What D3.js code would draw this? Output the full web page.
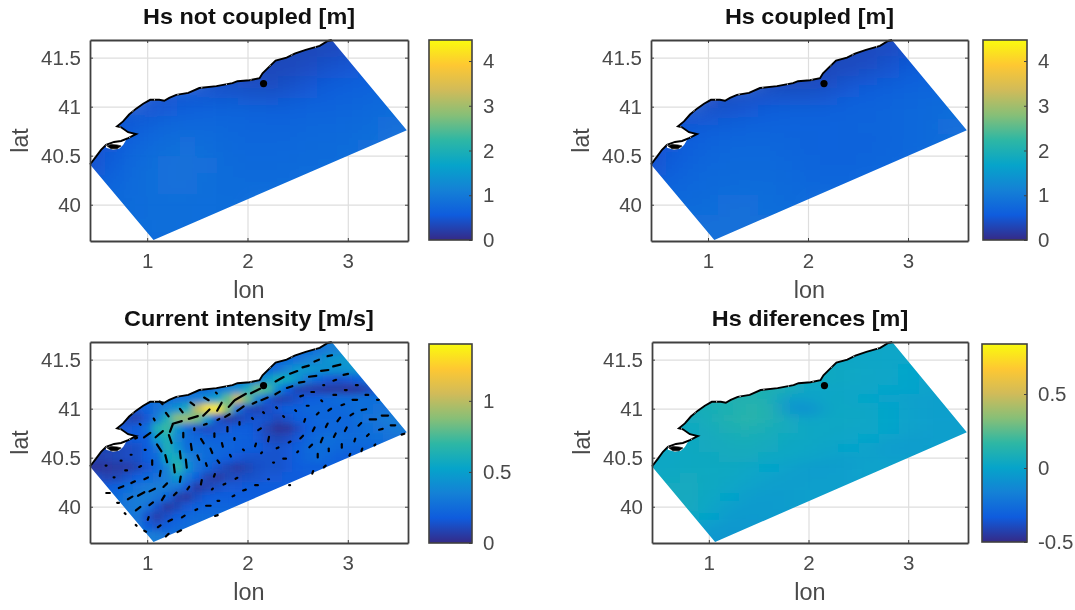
<!DOCTYPE html>
<html>
<head>
<meta charset="utf-8">
<script src="https://cdn.jsdelivr.net/npm/d3@7"></script>
<style>
  html, body { margin: 0; padding: 0; background: #fff; }
  svg { display: block; filter: blur(0.45px); font-family: "Liberation Sans", Arial, sans-serif; }
</style>
</head>
<body>
<div id="chart"></div>
<script>
// Map limits and axis ticks
var lonDomain = [0.43, 3.6];
var latDomain = [39.63, 41.68];
var lonTicks = [1, 2, 3];
var latTicks = [40, 40.5, 41, 41.5];

// parula colour stops
var parula = ["#352a87", "#0f5cdd", "#1481d6", "#06a4ca", "#2eb7a4", "#87bf77", "#d1bb59", "#fec832", "#f9fb0e"];

// Coastline [lon, lat], west to north
var coast = [[0.43,40.41],[0.49,40.49],[0.54,40.56],[0.59,40.61],[0.67,40.64],[0.74,40.65],[0.81,40.68],[0.89,40.72],
  [0.81,40.74],[0.74,40.79],[0.70,40.80],[0.76,40.85],[0.82,40.92],[0.89,40.98],[0.96,41.03],[1.03,41.07],[1.12,41.07],
  [1.17,41.06],[1.22,41.09],[1.29,41.12],[1.41,41.14],[1.52,41.19],[1.69,41.21],[1.85,41.24],[1.90,41.26],[2.02,41.27],
  [2.12,41.29],[2.15,41.34],[2.20,41.39],[2.28,41.47],[2.39,41.50],[2.47,41.54],[2.58,41.58],[2.72,41.62],[2.80,41.67],[2.84,41.68]];
// Open sea corners, east then south
var seaCorners = [[3.588,40.76],[1.063,39.64]];
var inlet = [[0.59,40.61],[0.67,40.64],[0.74,40.65],[0.79,40.66],[0.76,40.61],[0.72,40.57],[0.66,40.56],[0.59,40.58]];
var shoal = [[0.60,40.60],[0.64,40.57],[0.70,40.57],[0.74,40.60],[0.70,40.61],[0.64,40.615]];
var station = [2.16, 41.236];

// Hs fields in cm, 0.2 deg grid: first number of each row is the starting lon
var hsLats = [41.6, 41.4, 41.2, 41.0, 40.8, 40.6, 40.4, 40.2, 40.0, 39.8, 39.6];
var hsNotCoupled = [
  [2.6, 32,34,38],
  [2.2, 34,34,38,44,50,56],
  [1.6, 44,42,38,34,42,50,58,62,66,68],
  [0.8, 44,46,52,58,62,66,66,64,64,66,68,70,74,78],
  [0.8, 54,62,72,76,74,72,70,70,70,72,74,76,80,86,90],
  [0.6, 50,62,76,82,84,80,76,74,74,74,76,78,80,84],
  [0.4, 40,56,72,82,88,88,84,80,76,76,78,80,80],
  [0.6, 66,76,82,84,84,82,80,80,80,80],
  [0.8, 78,82,82,82,82,82,82],
  [1.0, 82,82,82],
  [1.0, 80,80]
];
var hsCoupled = [
  [2.6, 36,38,42],
  [2.2, 32,34,38,46,54,60],
  [1.6, 34,34,34,40,52,58,62,66,70,72],
  [0.8, 38,40,44,50,56,62,64,64,66,68,70,72,76,80],
  [0.8, 54,60,64,66,66,66,66,66,68,70,70,72,76,84,90],
  [0.6, 50,60,68,72,74,72,70,68,66,66,68,70,72,78],
  [0.4, 40,56,68,74,76,76,76,74,70,68,68,70,72],
  [0.6, 66,72,76,78,80,80,78,74,72,72],
  [0.8, 76,80,84,84,82,78,76],
  [1.0, 86,86,84],
  [1.0, 88,88]
];

// Current speed in cm/s, 0.1 deg grid
var currentLats = [41.6,41.5,41.4,41.3,41.2,41.1,41.0,40.9,40.8,40.7,40.6,40.5,40.4,40.3,40.2,40.1,40.0,39.9,39.8,39.7];
var currentSpeed = [
  [2.6, 24,28,32,36,38],
  [2.3, 22,24,28,34,38,44,46,46,46],
  [2.2, 22,28,38,46,46,44,42,42,44,44,38],
  [2.0, 28,32,46,60,56,44,30,22,16,14,16,20,26,28],
  [1.6, 24,30,36,42,58,82,74,40,18,10,8,7,6,6,5,6,10,18],
  [1.2, 26,28,30,34,42,52,80,104,82,38,16,9,10,14,18,20,22,24,24,26,26,26,28],
  [0.9, 16,20,28,36,44,60,100,132,135,88,30,12,9,12,16,19,20,22,22,22,22,24,26,26,28,28],
  [0.7, 14,10,9,16,34,62,88,92,84,48,14,7,9,13,15,14,11,14,19,20,22,22,22,22,26,28,30,32,32],
  [0.8, 16,18,26,62,72,44,24,14,12,14,16,18,18,15,9,4,5,12,18,21,22,22,22,24,26,28,30,32,32],
  [0.9, 17,18,50,62,38,24,22,20,20,20,20,19,16,12,10,12,16,21,24,26,25,24,24,25,26,28,28],
  [0.7, 10,12,13,18,30,62,42,26,26,24,22,21,20,19,17,15,14,16,19,23,25,25,23,22,22,22,22],
  [0.5, 8,9,10,12,13,18,24,56,60,36,29,24,21,18,16,14,14,14,14,16,19,22,24,22,20,19,19],
  [0.4, 5,4,5,6,7,10,15,22,36,68,42,28,21,14,10,7,10,13,14,14,16,18,19,19,19,19],
  [0.5, 12,9,10,14,18,22,27,34,46,30,19,9,6,10,12,13,14,16,16,17,17,17],
  [0.6, 17,20,25,28,31,32,32,29,16,6,9,13,16,16,17,17,17,17,17],
  [0.7, 24,29,32,33,29,22,8,6,13,17,18,18,18,18,18,18],
  [0.8, 30,32,27,14,6,10,16,20,21,21,21,21,21],
  [0.8, 30,29,14,8,13,18,22,24,24,24],
  [0.9, 29,17,14,19,22,24,24],
  [1.0, 32,32,27]
];

// Hs difference in cm, 0.2 deg lon by 0.1 deg lat
var hsDifference = [
  [2.6, 2,1,1],
  [2.4, 2,2,1,1,0],
  [2.2, 4,3,2,1,0,-1],
  [2.0, 7,4,3,2,1,0,-1,-1],
  [1.6, 11,9,-1,1,2,1,0,0,-1,-1],
  [1.2, 11,12,9,-3,1,3,2,0,-1,-2,-2,-2],
  [0.8, 7,8,10,13,13,-8,-13,2,3,2,0,-1,-2,-2],
  [0.8, 5,8,12,14,11,5,1,3,3,2,0,-1,-2,-2],
  [0.8, 4,6,10,11,8,5,3,3,2,2,0,-1,-2,-2,-2],
  [0.8, 4,5,7,8,6,4,3,2,1,0,-1,-3,-3,-2],
  [0.6, 3,4,5,6,7,5,3,2,1,0,-1,-4,-4,-2],
  [0.6, 3,4,4,5,5,3,2,1,-1,-2,-1,-2,-2],
  [0.4, 2,3,4,4,4,2,0,-1,-4,-4,-2,-1,-1],
  [0.6, 4,5,4,3,1,-1,-3,-3,-2,-2,-1],
  [0.6, 5,5,4,2,-1,-3,-3,-2,-2,-2],
  [0.6, 5,5,3,0,-3,-4,-3,-2,-2],
  [0.8, 5,2,-2,-4,-4,-3,-2],
  [0.8, 4,0,-4,-5,-4],
  [1.0, -3,-6,-5],
  [1.0, -6,-7]
];

// Current vectors [lon, lat, u, v] in degrees on the map
var currentVectors = [
  [.59,40.42,.01,0],[.74,40.47,.01,0],[.84,40.53,.01,0],[.98,40.58,.01,0],[.67,40.30,.01,0],[.79,40.37,.02,0],
  [.93,40.41,.02,.01],[1.05,40.45,0,.05],[.74,40.20,.05,.02],[.86,40.25,.04,.02],[.99,40.29,.04,.02],[1.13,40.34,.01,.06],
  [.61,40.14,.04,0],[.83,40.09,.05,.03],[.94,40.13,.07,.04],[1.05,40.17,.06,.03],[1.18,40.22,.04,.04],[1.33,40.28,.01,.06],
  [.71,40.04,.02,0],[.91,39.98,.05,.04],[1.04,40.03,.04,.03],[1.16,40.09,.03,.05],[1.28,40.13,.03,.03],[1.41,40.19,.02,.03],
  [1.54,40.25,.01,.05],[1.67,40.32,.01,.03],[.78,39.93,.01,-.01],[1.01,39.88,.01,.03],[.89,39.81,.01,-.01],[1.12,39.80,.03,.02],
  [1.23,39.86,.04,.02],[1.36,39.90,.03,.02],[1.49,39.97,.02,.01],[1.61,40.01,.05,0],[1.71,40.06,.02,0],[1.86,40.11,.02,.01],
  [1.97,40.17,.03,.01],[1.65,40.18,.01,.01],[1.77,40.23,.02,.01],[1.89,40.29,.02,.01],[1.20,39.71,.03,.03],[.98,39.75,.02,-.01],
  [1.32,39.75,.04,.02],[1.69,39.91,.03,.01],
  [1.12,40.60,.05,-.08],[1.19,40.49,.02,-.08],[1.27,40.39,.01,-.09],[1.33,40.53,.01,-.08],[1.39,40.44,.01,-.09],[1.23,40.69,.03,-.09],
  [1.44,40.61,.01,-.07],[1.51,40.50,.02,-.05],[1.64,40.57,.02,-.05],[1.55,40.67,.03,-.05],[1.75,40.63,.01,-.04],[1.67,40.73,0,-.04],
  [1.80,40.79,0,-.05],[1.92,40.85,0,-.03],[1.87,40.69,0,-.02],[1.83,40.52,.01,-.02],[1.96,40.58,.01,-.01],[1.71,40.46,.02,-.03],
  [1.59,40.43,.01,-.03],[1.47,40.79,0,-.02],[1.36,40.73,0,-.05],
  [1.30,40.86,.10,.03],[1.24,40.80,.03,.08],[1.12,40.74,.08,.07],[1.00,40.73,.07,.05],[.89,40.70,.02,.01],[1.46,40.91,.10,.03],
  [1.59,40.96,.07,.07],[1.72,41.02,.05,.09],[1.84,41.05,.06,.07],[1.58,40.84,.03,.01],[1.71,40.89,.02,.01],[1.80,40.93,.05,.03],
  [1.93,41.00,.07,.05],[1.20,40.94,.03,-.04],[1.07,40.89,.01,-.02],[1.34,40.98,.03,-.04],[1.45,41.05,.04,-.03],[1.59,41.10,.05,-.03],
  [1.14,41.06,.03,-.03],[1.69,41.16,.01,-.01],[.93,40.84,.01,-.01],[1.93,41.12,.12,.07],[2.08,41.18,.10,.05],
  [2.82,41.54,.05,.01],[2.69,41.49,.05,.02],[2.58,41.43,.07,.02],[2.46,41.37,.08,.03],[2.32,41.30,.09,.05],[2.89,41.44,.08,.02],
  [2.77,41.39,.08,.01],[2.65,41.33,.08,.01],[2.54,41.27,.06,.01],[2.42,41.22,.06,.02],[2.30,41.16,.05,.03],[2.17,41.10,.07,.03],
  [2.07,41.06,.04,.02],[2.98,41.35,.05,.01],[2.87,41.29,.03,.01],[2.76,41.24,.01,0],[2.65,41.17,.03,0],[2.54,41.13,.03,.01],
  [3.09,41.24,.02,0],[2.98,41.19,.02,0],[2.87,41.14,.03,0],[2.74,41.08,.01,-.01],[2.60,41.03,.02,0],[2.48,40.98,.01,-.01],
  [2.36,40.92,.01,-.01],[2.29,41.01,.01,-.01],[2.16,40.96,.01,-.01],[2.05,40.90,.01,-.01],[3.19,41.14,.03,0],[3.07,41.09,.05,0],
  [2.95,41.04,.03,.01],[2.82,40.99,.03,.02],[2.70,40.95,.02,.02],[2.57,40.88,.01,.03],[2.12,40.79,.03,.02],[3.30,41.09,.02,0],
  [3.16,40.99,.05,.01],[3.04,40.94,.03,.02],[2.91,40.89,.03,.04],[2.79,40.83,.02,.04],[2.66,40.79,.02,.04],[2.54,40.71,.03,.03],
  [2.42,40.66,.02,.01],[2.30,40.60,.02,.01],[3.25,40.89,.07,0],[3.37,40.93,.07,0],[3.45,40.83,.05,0],[3.33,40.79,.04,.01],
  [3.20,40.73,.02,.02],[3.12,40.84,.03,.03],[2.98,40.79,.02,.04],[2.87,40.73,.02,.04],[2.74,40.68,.02,.05],[2.63,40.62,.03,.03],
  [3.07,40.68,.01,.03],[2.94,40.62,0,.04],[2.81,40.58,0,.03],[2.70,40.52,0,.04],[3.27,40.63,.01,.01],[3.14,40.58,.01,.03],
  [3.02,40.53,.01,.02],[2.77,40.41,.02,.02],[2.65,40.35,.01,.03],[3.55,40.74,.03,.01],[2.50,40.56,.01,.01],[2.37,40.49,.03,0],
  [2.26,40.45,.01,0],[2.14,40.55,.01,.01],[2.08,40.63,.01,.03],[2.21,40.69,.01,.05],[2.09,40.22,.03,0],[2.21,40.28,.01,0],[2.42,40.22,.01,0]
];

// Titles and colourbar ticks
var titles = ["Hs not coupled [m]", "Hs coupled [m]", "Current intensity [m/s]", "Hs diferences [m]"];
var hsTicks = [0, 1, 2, 3, 4];
var currentTicks = [0, 0.5, 1];
var diffTicks = [-0.5, 0, 0.5];

// Set up the panels
var svgWidth = 1075;
var svgHeight = 610;
var svg = d3.select("#chart")
  .append("svg")
  .attr("width", svgWidth)
  .attr("height", svgHeight);
var defs = svg.append("defs");

var panels = [
  { title: titles[0], left: 90, top: 40, right: 408, bottom: 241, barLeft: 429, barRight: 472, barTop: 40, barBottom: 240,
    field: hsNotCoupled, lats: hsLats, lonStep: 0.2, latStep: 0.2, blur: "12", barDomain: [0, 4.47], barTicks: hsTicks },
  { title: titles[1], left: 651, top: 40, right: 968, bottom: 241, barLeft: 983, barRight: 1027, barTop: 40, barBottom: 240,
    field: hsCoupled, lats: hsLats, lonStep: 0.2, latStep: 0.2, blur: "12", barDomain: [0, 4.47], barTicks: hsTicks },
  { title: titles[2], left: 90, top: 342, right: 408, bottom: 543, barLeft: 429, barRight: 472, barTop: 344, barBottom: 543,
    field: currentSpeed, lats: currentLats, lonStep: 0.1, latStep: 0.1, blur: "3", barDomain: [0, 1.4], barTicks: currentTicks, vectors: currentVectors },
  { title: titles[3], left: 652, top: 342, right: 968, bottom: 543, barLeft: 982, barRight: 1027, barTop: 344, barBottom: 542,
    field: hsDifference, lats: currentLats, lonStep: 0.2, latStep: 0.1, blur: "10 6", barDomain: [-0.5, 0.838], barTicks: diffTicks }
];

// Widen the glyphs a little, the source picture is stretched sideways
function widen(selection, factor) {
  selection.each(function() {
    var t = d3.select(this);
    var x = +t.attr("x") || 0;
    var y = +t.attr("y") || 0;
    t.attr("x", x / factor).attr("y", y).attr("transform", "scale(" + factor + ",1)");
  });
}

panels.forEach(function(p, i) {
  var xScale = d3.scaleLinear().domain(lonDomain).range([p.left, p.right]);
  var yScale = d3.scaleLinear().domain(latDomain).range([p.bottom, p.top]);
  var colorStops = parula.map(function(c, k) {
    return p.barDomain[0] + (p.barDomain[1] - p.barDomain[0]) * k / (parula.length - 1);
  });
  var color = d3.scaleLinear().domain(colorStops).range(parula).clamp(true);
  var line = d3.line().x(function(d) { return xScale(d[0]); }).y(function(d) { return yScale(d[1]); });
  var g = svg.append("g");

  // Grid sits under the field
  g.append("g")
    .attr("transform", "translate(0," + p.bottom + ")")
    .call(d3.axisBottom(xScale).tickValues(lonTicks).tickSize(p.top - p.bottom).tickFormat(""))
    .call(function(a) { a.select(".domain").remove(); a.selectAll("line").attr("stroke", "#dedede").attr("stroke-width", 1.2); });
  g.append("g")
    .attr("transform", "translate(" + p.left + ",0)")
    .call(d3.axisLeft(yScale).tickValues(latTicks).tickSize(p.left - p.right).tickFormat(""))
    .call(function(a) { a.select(".domain").remove(); a.selectAll("line").attr("stroke", "#dedede").attr("stroke-width", 1.2); });

  // Field, blurred and clipped to the sea area
  defs.append("clipPath").attr("id", "sea" + i)
    .append("path").attr("d", line(coast.concat(seaCorners)) + "Z");
  defs.append("filter").attr("id", "smooth" + i)
    .attr("filterUnits", "userSpaceOnUse")
    .attr("x", p.left - 60).attr("y", p.top - 60)
    .attr("width", p.right - p.left + 120).attr("height", p.bottom - p.top + 120)
    .append("feGaussianBlur").attr("stdDeviation", p.blur);

  var rows = g.append("g").attr("clip-path", "url(#sea" + i + ")")
    .append("g").attr("filter", "url(#smooth" + i + ")")
    .selectAll("g")
    .data(p.field)
    .enter()
    .append("g");
  rows.each(function(row, r) {
    var cells = row.slice(1);
    var lat = p.lats[r];
    var latHi = lat + p.latStep / 2 + (r === 0 ? 0.4 : 0);
    var latLo = lat - p.latStep / 2 - (r === p.field.length - 1 ? 0.4 : 0);
    d3.select(this).selectAll("rect")
      .data(cells)
      .enter()
      .append("rect")
      .attr("x", function(d, j) { return xScale(row[0] + j * p.lonStep - p.lonStep / 2 - (j === 0 ? 0.6 : 0)); })
      .attr("y", yScale(latHi))
      .attr("width", function(d, j) {
        var extra = (j === 0 ? 0.6 : 0) + (j === cells.length - 1 ? 0.6 : 0);
        return xScale(lonDomain[0] + p.lonStep + extra) - xScale(lonDomain[0]) + 0.5;
      })
      .attr("height", yScale(latLo) - yScale(latHi) + 0.5)
      .attr("fill", function(d) { return color(d / 100); });
  });

  // Coastline
  g.append("path").attr("d", line(inlet) + "Z").attr("fill", "#fff");
  g.append("path").attr("d", line(shoal) + "Z").attr("fill", "#000").attr("stroke", "#000").attr("stroke-width", 0.6);
  g.append("path").attr("d", line(coast)).attr("fill", "none").attr("stroke", "#000").attr("stroke-width", 1.9);
  g.append("path").attr("d", line(coast)).attr("fill", "none").attr("stroke", "#fff").attr("stroke-width", 1)
    .attr("stroke-dasharray", "1 24");

  // Current vectors
  if (p.vectors) {
    g.append("g").selectAll("line")
      .data(p.vectors)
      .enter()
      .append("line")
      .attr("x1", function(d) { return xScale(d[0] - d[2] * 0.45); })
      .attr("y1", function(d) { return yScale(d[1] - d[3] * 0.45); })
      .attr("x2", function(d) { return xScale(d[0] + d[2] * 0.45); })
      .attr("y2", function(d) { return yScale(d[1] + d[3] * 0.45); })
      .attr("stroke", "#000")
      .attr("stroke-width", 2.2)
      .attr("stroke-linecap", "round");
  }

  g.append("circle")
    .attr("cx", xScale(station[0]))
    .attr("cy", yScale(station[1]))
    .attr("r", 3.6)
    .attr("fill", "#000");

  // Axes with inward ticks on all four sides
  var bottomAxis = g.append("g").attr("transform", "translate(0," + p.bottom + ")")
    .call(d3.axisBottom(xScale).tickValues(lonTicks).tickSizeInner(-3).tickSizeOuter(0).tickPadding(12).tickFormat(String));
  var leftAxis = g.append("g").attr("transform", "translate(" + p.left + ",0)")
    .call(d3.axisLeft(yScale).tickValues(latTicks).tickSizeInner(-3).tickSizeOuter(0).tickPadding(9).tickFormat(String));
  var topAxis = g.append("g").attr("transform", "translate(0," + p.top + ")")
    .call(d3.axisTop(xScale).tickValues(lonTicks).tickSizeInner(-3).tickSizeOuter(0).tickFormat(""));
  var rightAxis = g.append("g").attr("transform", "translate(" + p.right + ",0)")
    .call(d3.axisRight(yScale).tickValues(latTicks).tickSizeInner(-3).tickSizeOuter(0).tickFormat(""));
  [bottomAxis, leftAxis, topAxis, rightAxis].forEach(function(a) {
    a.attr("font-family", null).attr("font-size", null);
    a.selectAll("line").attr("stroke", "#404040");
    a.select(".domain").attr("stroke", "#404040").attr("stroke-width", 1.8);
    a.selectAll("text").attr("fill", "#4a4a4a").style("font-size", "20.5px");
  });

  // Colourbar, painted with a gradient taken from the colour scale
  var barScale = d3.scaleLinear().domain(p.barDomain).range([p.barBottom, p.barTop]);
  var gradient = defs.append("linearGradient").attr("id", "bar" + i)
    .attr("x1", 0).attr("y1", 1).attr("x2", 0).attr("y2", 0);
  gradient.selectAll("stop")
    .data(colorStops)
    .enter()
    .append("stop")
    .attr("offset", function(d, k) { return k / (colorStops.length - 1); })
    .attr("stop-color", function(d) { return color(d); });
  g.append("rect")
    .attr("x", p.barLeft).attr("y", p.barTop)
    .attr("width", p.barRight - p.barLeft).attr("height", p.barBottom - p.barTop)
    .attr("fill", "url(#bar" + i + ")")
    .attr("stroke", "#404040").attr("stroke-width", 1.6);
  var barAxis = g.append("g").attr("transform", "translate(" + p.barRight + ",0)")
    .call(d3.axisRight(barScale).tickValues(p.barTicks).tickSizeInner(-3).tickSizeOuter(0).tickPadding(11).tickFormat(String));
  barAxis.attr("font-family", null).attr("font-size", null);
  barAxis.select(".domain").remove();
  barAxis.selectAll("line").attr("stroke", "#404040");
  barAxis.selectAll("text").attr("fill", "#4a4a4a").style("font-size", "20.5px");

  // Title and axis labels
  var cx = (p.left + p.right) / 2;
  var titleText = g.append("text")
    .attr("x", cx).attr("y", p.top - 16)
    .attr("text-anchor", "middle")
    .style("font-size", "21.5px").style("font-weight", "bold")
    .attr("fill", "#111")
    .text(p.title);
  widen(titleText, 1.09);
  var lonText = g.append("text")
    .attr("x", cx).attr("y", p.bottom + 57)
    .attr("text-anchor", "middle")
    .style("font-size", "23px")
    .attr("fill", "#4a4a4a")
    .text("lon");
  widen(lonText, 1.02);
  g.append("text")
    .attr("transform", "translate(" + (p.left - 62) + "," + ((p.top + p.bottom) / 2) + ") rotate(-90)")
    .attr("text-anchor", "middle")
    .style("font-size", "23px")
    .attr("fill", "#4a4a4a")
    .text("lat");
});
</script>
</body>
</html>
